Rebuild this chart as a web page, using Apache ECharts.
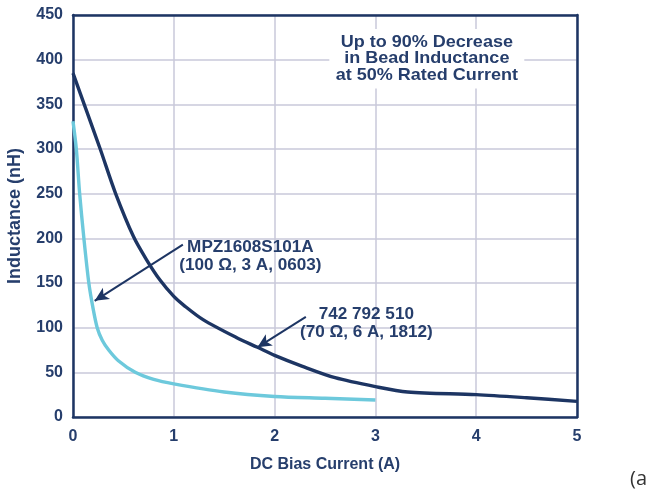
<!DOCTYPE html>
<html>
<head>
<meta charset="utf-8">
<script src="https://cdn.jsdelivr.net/npm/echarts@6/dist/echarts.min.js"></script>
<style>
  html, body { margin: 0; padding: 0; background: #ffffff; }
  #chart { width: 651px; height: 495px; }
</style>
</head>
<body>
<div id="chart"></div>
<script>
// Axis ticks
const xTicks = [0, 1, 2, 3, 4, 5];
const yTicks = [0, 50, 100, 150, 200, 250, 300, 350, 400, 450];

// 742 792 510 (70 Ω, 6 A, 1812): DC bias current (A) vs inductance (nH)
const bead1812Current = [0, 0.13, 0.27, 0.42, 0.6, 0.73, 0.865, 1.0, 1.1, 1.29, 1.62, 1.83, 2.0, 2.27, 2.6, 3.0, 3.32, 4.0, 4.5, 5.0];
const bead1812L       = [385, 344, 300, 251, 202, 176, 153, 135, 125, 109, 89, 78, 69, 57, 44, 34, 28, 25, 21.5, 17.5];

// MPZ1608S101A (100 Ω, 3 A, 0603)
const bead0603Current = [0, 0.033, 0.066, 0.108, 0.157, 0.2, 0.24, 0.29, 0.354, 0.45, 0.617, 0.8, 1.0, 1.5, 2.0, 2.5, 3.0];
const bead0603L       = [331, 300, 250, 200, 150, 121, 100, 86, 75, 63, 50, 42, 37, 28, 23, 21, 19];

// Annotation texts
const noteText = ['Up to 90% Decrease', 'in Bead Inductance', 'at 50% Rated Current'];
const label0603 = ['MPZ1608S101A', '(100 Ω, 3 A, 0603)'];
const label1812 = ['742 792 510', '(70 Ω, 6 A, 1812)'];

const navy = '#1d3563';
const textNavy = '#263e6c';
const cyan = '#6dc9dc';
const gridColor = '#c8c8da';
const fontFamily = '"Liberation Sans", Arial, Helvetica, sans-serif';

function zip(xs, ys) { return xs.map((x, i) => [x, ys[i]]); }

const chart = echarts.init(document.getElementById('chart'), null, { renderer: 'canvas' });

// Top and right edges of the plot frame
const frameAxis = {
  axisLine: { show: true, onZero: false, lineStyle: { color: navy, width: 2.5 } },
  axisTick: { show: false },
  axisLabel: { show: false },
  splitLine: { show: false }
};

const option = {
  animation: false,
  backgroundColor: '#ffffff',
  grid: { left: 73, top: 15, right: 74, bottom: 78, containLabel: false, outerBoundsMode: 'none' },
  xAxis: [
    {
      type: 'value',
      min: xTicks[0], max: xTicks[xTicks.length - 1], interval: 1,
      name: 'DC Bias Current (A)',
      nameLocation: 'middle', nameGap: 40,
      nameTextStyle: { fontFamily, fontWeight: 'bold', fontSize: 16, color: textNavy },
      axisLine: { show: true, onZero: false, lineStyle: { color: navy, width: 2.5 } },
      axisTick: { show: false },
      axisLabel: { margin: 12, fontFamily, fontWeight: 'bold', fontSize: 16, color: textNavy },
      splitLine: { show: true, lineStyle: { color: gridColor, width: 1.5 } },
      z: 2
    },
    Object.assign({ type: 'value', position: 'top', min: xTicks[0], max: xTicks[xTicks.length - 1], z: 5 }, frameAxis)
  ],
  yAxis: [
    {
      type: 'value',
      min: yTicks[0], max: yTicks[yTicks.length - 1], interval: 50,
      name: 'Inductance (nH)',
      nameLocation: 'middle', nameGap: 49, nameRotate: 90,
      nameTextStyle: { fontFamily, fontWeight: 'bold', fontSize: 18, color: textNavy },
      axisLine: { show: true, onZero: false, lineStyle: { color: navy, width: 2.5 } },
      axisTick: { show: false },
      axisLabel: { margin: 10, fontFamily, fontWeight: 'bold', fontSize: 16, color: textNavy },
      splitLine: { show: true, lineStyle: { color: gridColor, width: 1.5 } },
      z: 2
    },
    Object.assign({ type: 'value', position: 'right', min: yTicks[0], max: yTicks[yTicks.length - 1], z: 5 }, frameAxis)
  ],
  series: [
    {
      name: 'MPZ1608S101A',
      type: 'line',
      data: zip(bead0603Current, bead0603L),
      smooth: 0.3,
      showSymbol: false,
      lineStyle: { color: cyan, width: 3.4 },
      z: 3
    },
    {
      name: '742 792 510',
      type: 'line',
      data: zip(bead1812Current, bead1812L),
      smooth: 0.3,
      showSymbol: false,
      lineStyle: { color: navy, width: 3.4 },
      z: 4,
      markLine: {
        silent: true,
        animation: false,
        symbol: ['none', 'arrow'],
        symbolSize: [10, 14],
        label: { show: false },
        lineStyle: { color: navy, width: 2, type: 'solid' },
        data: [
          [{ coord: [1.09, 193] }, { coord: [0.215, 130] }],
          [{ coord: [2.31, 112] }, { coord: [1.83, 78] }]
        ]
      }
    }
  ]
};
chart.setOption(option);

// Text annotations placed at data coordinates
function textAt(coord, lines, extra, scaleX) {
  const p = chart.convertToPixel({ xAxisIndex: 0, yAxisIndex: 0 }, coord);
  return {
    type: 'text',
    x: p[0], y: p[1],
    scaleX: scaleX || 1,
    z: 10,
    style: Object.assign({
      text: lines.join('\n'),
      align: 'center', verticalAlign: 'middle',
      fontFamily, fontWeight: 'bold', fontSize: 16, lineHeight: 18,
      fill: textNavy
    }, extra || {})
  };
}

chart.setOption({
  graphic: [
    textAt([3.51, 401], noteText,
      { fontSize: 17, lineHeight: 16.5, backgroundColor: '#ffffff', padding: [4, 6, 6, 6] }, 1.06),
    textAt([1.76, 179], label0603, null, 1.07),
    textAt([2.91, 104], label1812, null, 1.07),
    {
      type: 'text', left: 630, top: 469, z: 10,
      style: { text: '(a', fontFamily: '"Open Sans", "DejaVu Sans", sans-serif', fontSize: 20, fill: '#333333' }
    }
  ]
});
</script>
</body>
</html>
